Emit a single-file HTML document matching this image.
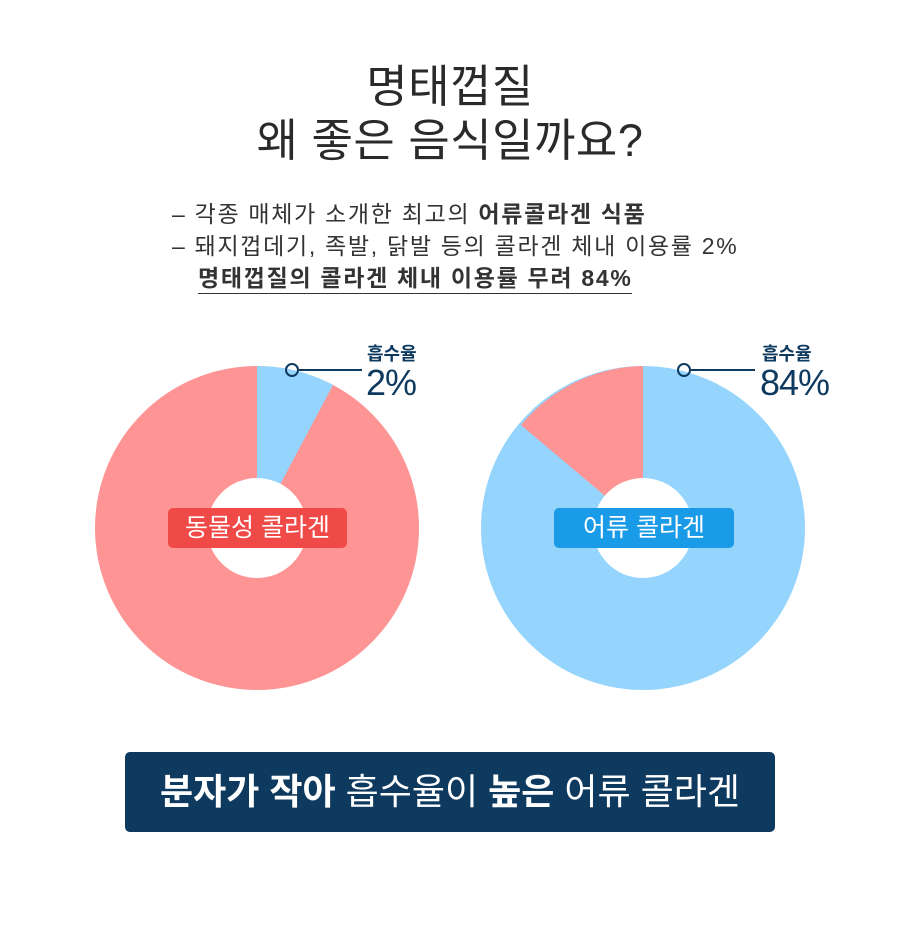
<!DOCTYPE html><html><head><meta charset="utf-8"><style>
body{margin:0;width:900px;height:927px;background:#fff;font-family:"Liberation Sans","Noto Sans CJK KR",sans-serif;position:relative;overflow:hidden;color:#222}
.a{position:absolute;white-space:nowrap}
</style></head><body>
<div class="a" style="left:0;width:900px;top:60px;text-align:center;font-size:45px;line-height:54px;color:#2a2a2a;letter-spacing:0.5px">명태껍질<br>왜 좋은 음식일까요?</div>
<div class="a" style="left:172px;top:198px;font-size:23px;line-height:32px;color:#333;letter-spacing:1.7px">
– 각종 매체가 소개한 최고의 <b>어류콜라겐 식품</b><br>
– 돼지껍데기, 족발, 닭발 등의 콜라겐 체내 이용률 2%<br>
<b style="margin-left:26px;border-bottom:1.5px solid #333;padding-bottom:2px">명태껍질의 콜라겐 체내 이용률 무려 84%</b></div>
<svg class="a" style="left:0;top:0" width="900" height="927">
<circle cx="257" cy="528" r="162" fill="#fe9494"/>
<path d="M257 528 L257 366 A162 162 0 0 1 333 385 Z" fill="#95d5fd"/>
<circle cx="257" cy="528" r="50" fill="#fff"/>
<circle cx="643" cy="528" r="162" fill="#95d5fd"/>
<path d="M643 528 L643 366 A162 162 0 0 0 521 425 Z" fill="#fe9494"/>
<circle cx="643" cy="528" r="50" fill="#fff"/>
<line x1="299" y1="370" x2="362" y2="370" stroke="#0e3a5f" stroke-width="2"/>
<circle cx="292" cy="370" r="6" fill="none" stroke="#0e3a5f" stroke-width="2"/>
<line x1="691" y1="370" x2="755" y2="370" stroke="#0e3a5f" stroke-width="2"/>
<circle cx="684" cy="370" r="6" fill="none" stroke="#0e3a5f" stroke-width="2"/>
</svg>
<div class="a" style="left:367px;top:340px;font-size:18px;font-weight:bold;color:#0e3a5f">흡수율</div>
<div class="a" style="left:366px;top:362px;font-size:36px;color:#0e3a5f;letter-spacing:-1px">2%</div>
<div class="a" style="left:762px;top:340px;font-size:18px;font-weight:bold;color:#0e3a5f">흡수율</div>
<div class="a" style="left:760px;top:362px;font-size:36px;color:#0e3a5f;letter-spacing:-1px">84%</div>
<div class="a" style="left:168px;top:508px;width:179px;height:40px;background:#f04a48;border-radius:5px;color:#fff;font-size:25px;line-height:40px;text-align:center">동물성 콜라겐</div>
<div class="a" style="left:554px;top:508px;width:180px;height:40px;background:#1a9be8;border-radius:5px;color:#fff;font-size:25px;line-height:40px;text-align:center">어류 콜라겐</div>
<div class="a" style="left:125px;top:752px;width:650px;height:80px;background:#0e3a5f;border-radius:5px;color:#fff;font-size:36px;line-height:80px;text-align:center"><b>분자가 작아</b> 흡수율이 <b>높은</b> 어류 콜라겐</div>
</body></html>
